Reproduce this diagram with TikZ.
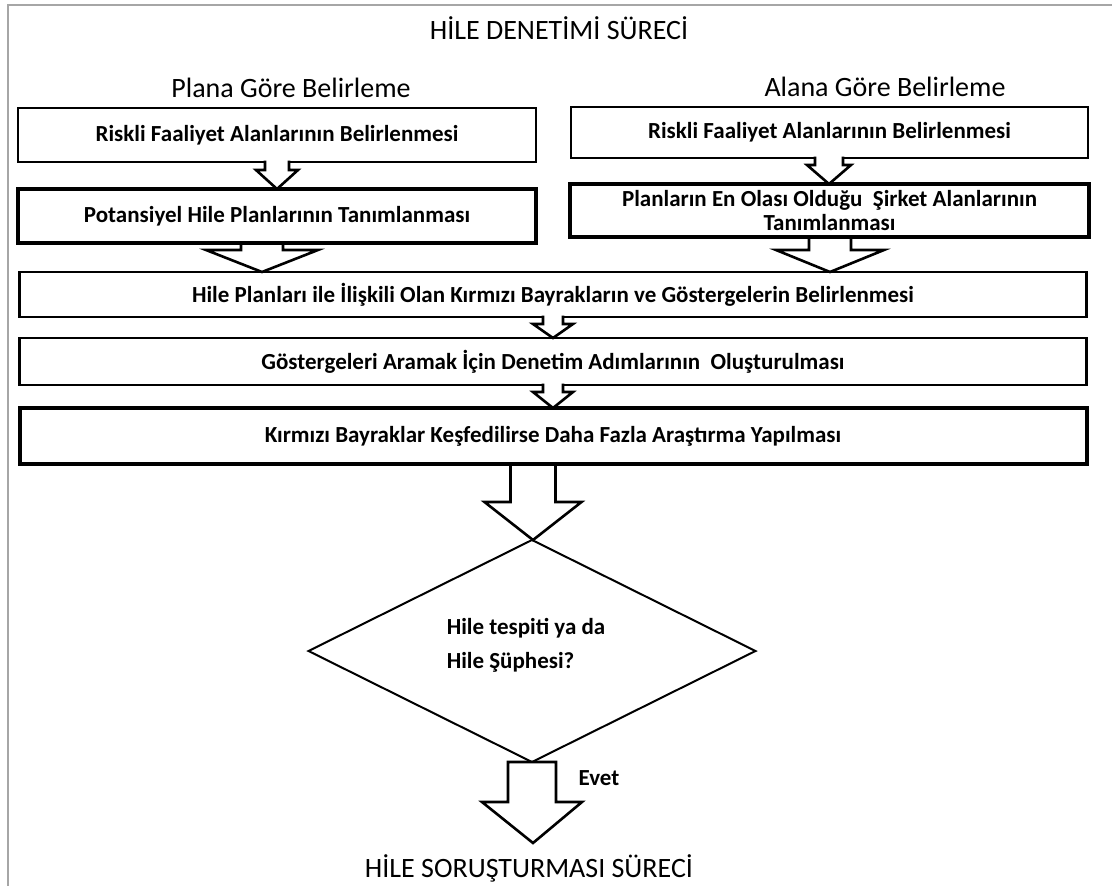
\documentclass[tikz,border=0pt]{standalone}
\usepackage{fontspec}
\setmainfont{Carlito}
\usepackage{tikz}
\usetikzlibrary{shapes.geometric,calc}

\tikzset{
  kutu/.style={draw, line width=2.6pt, inner sep=0pt, outer sep=0pt, align=center, font=\fontsize{23}{24}\selectfont\bfseries},
  kalin/.style={line width=4pt},
  baslik/.style={inner sep=0pt, font=\fontsize{28}{30}\selectfont},
  okcizgi/.style={draw, fill=white, line width=2.6pt},
  cerceve/.style={draw=gray!70, line width=1.5pt}
}

% #1 x, #2 ust kutu, #3 alt kutu, #4 govde yarisi, #5 bas yarisi, #6 govde boyu, #7 ust pay
\newcommand{\blokok}[7]{%
  \draw[okcizgi] let \p1=(#2.south), \p2=(#3.north) in
    (#1pt-#4pt,\y1+#7pt) -- (#1pt-#4pt,\y1-#6pt) -- (#1pt-#5pt,\y1-#6pt) -- (#1pt,\y2)
    -- (#1pt+#5pt,\y1-#6pt) -- (#1pt+#4pt,\y1-#6pt) -- (#1pt+#4pt,\y1+#7pt);}

\begin{document}
\begin{tikzpicture}[x=1pt, y=-1pt]
            \useasboundingbox (0,0) rectangle (1112,886);
            \draw[cerceve] (1112,5) -- (8,5) -- (8,886);
            \node[baslik] (ust) at (559,28) {HİLE DENETİMİ SÜRECİ};
            \node[baslik] (plana) at (291,88) {Plana Göre Belirleme};
            \node[baslik] (alana) at (885,87) {Alana Göre Belirleme};
            % iki sutun
            \node[kutu, minimum width=518pt, minimum height=54pt] (sol1) at (277,135) {Riskli Faaliyet Alanlarının Belirlenmesi};
            \node[kutu, kalin, minimum width=518pt, minimum height=54pt] (sol2) at (277,216) {Potansiyel Hile Planlarının Tanımlanması};
            \node[kutu, minimum width=517pt, minimum height=51pt] (sag1) at (829.5,132.5) {Riskli Faaliyet Alanlarının Belirlenmesi};
            \node[kutu, kalin, minimum width=519pt, minimum height=53pt] (sag2) at (829.5,210.5) {Planların En Olası Olduğu~ Şirket Alanlarının\\Tanımlanması};
            % ortak adimlar
            \node[kutu, minimum width=1067pt, minimum height=45pt] (orta1) at (553,294.5) {Hile Planları ile İlişkili Olan Kırmızı Bayrakların ve Göstergelerin Belirlenmesi};
            \node[kutu, minimum width=1067pt, minimum height=47pt] (orta2) at (553,361.5) {Göstergeleri Aramak İçin Denetim Adımlarının~ Oluşturulması};
            \node[kutu, kalin, minimum width=1067pt, minimum height=56pt] (orta3) at (553,436) {Kırmızı Bayraklar Keşfedilirse Daha Fazla Araştırma Yapılması};
            \node[draw, diamond, aspect=2, line width=2pt, inner sep=0pt, outer sep=0pt, minimum width=447pt, minimum height=222pt] (karar) at (532,651) {};
            \node[align=left, inner sep=0pt, font=\fontsize{23}{28}\selectfont\bfseries] (kararyazi) at (526,645) {Hile tespiti ya da\\[6pt]Hile Şüphesi?};
            \coordinate (sonuc) at (533,843);
            % oklar
            \blokok{277}{sol1}{sol2}{12}{21}{8}{1.3}
            \blokok{262}{sol2}{orta1}{21}{56}{7}{-2}
            \blokok{829}{sag1}{sag2}{14}{22}{7}{1.3}
            \blokok{830}{sag2}{orta1}{21}{54}{13}{-2}
            \blokok{553}{orta1}{orta2}{10}{20}{7}{1.3}
            \blokok{553}{orta2}{orta3}{10}{20}{7}{1.3}
            \blokok{533}{orta3}{karar}{22.5}{48.5}{38}{-2}
            \draw[okcizgi] let \p1=(karar.south), \p2=(sonuc) in
              (\x1-24pt,\y1) -- (\x1-24pt,\y1-40pt) -- (\x1-50pt,\y1-40pt) -- (\x2,\y2)
              -- (\x1+50pt,\y1-40pt) -- (\x1+24pt,\y1-40pt) -- (\x1+24pt,\y1) -- cycle;
            \node[font=\fontsize{23}{26}\selectfont\bfseries] (evet) at (599,778) {Evet};
            \node[baslik] (alt) at (529,868) {HİLE SORUŞTURMASI SÜRECİ};
        \end{tikzpicture}
\end{document}
